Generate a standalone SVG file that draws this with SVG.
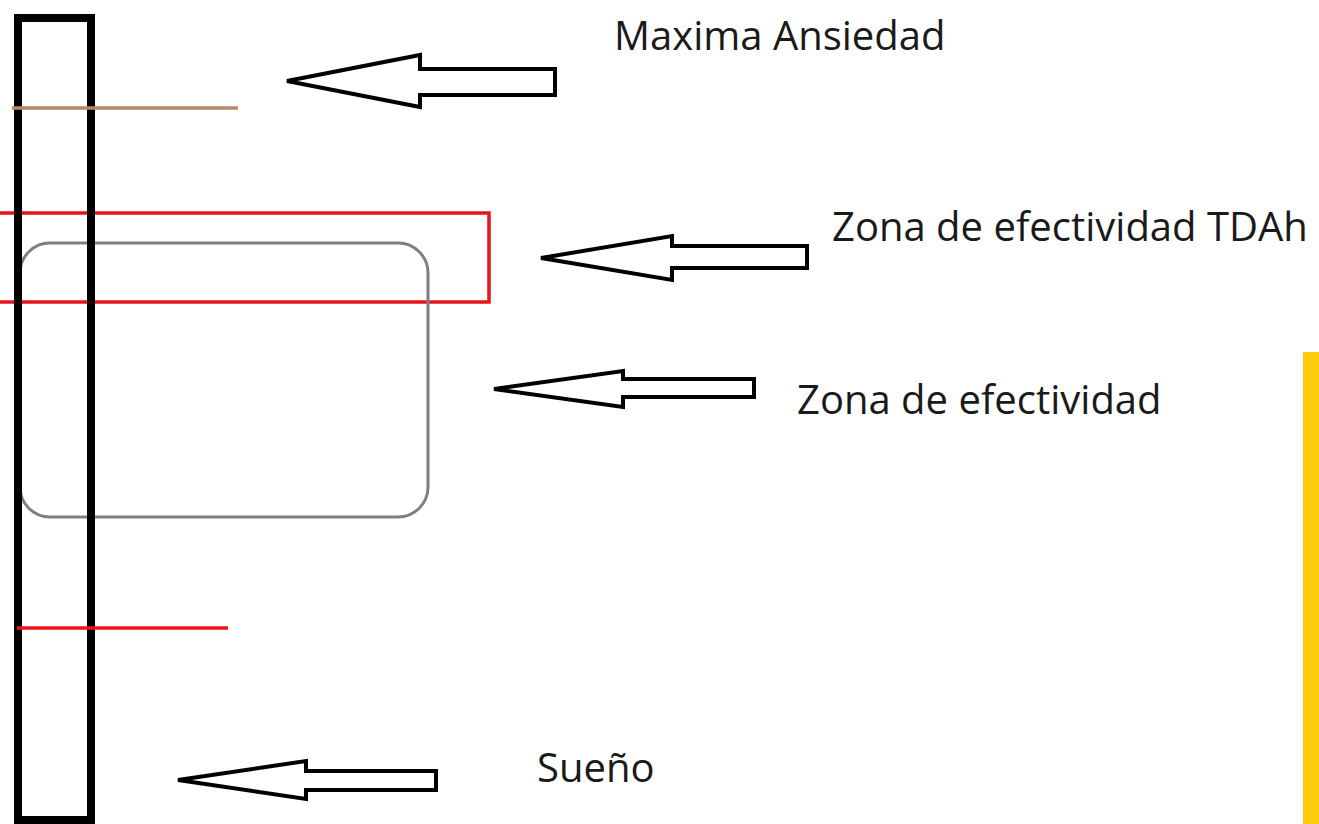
<svg xmlns="http://www.w3.org/2000/svg" width="1319" height="824" viewBox="0 0 1319 824">
<style>
.arrow{fill:#fff;stroke:#000;stroke-width:4;stroke-linejoin:miter}
.lbl{font-family:"Open Sans","Noto Sans",sans-serif;font-size:40px;fill:#1a1a1a}
</style>
<rect width="1319" height="824" fill="#fff"/>
<g id="red-zone"><rect x="-10" y="213" width="499" height="89" fill="none" stroke="#e8141c" stroke-width="3.5"/></g>
<g id="gray-zone"><rect x="20" y="243" width="408" height="274" rx="30" ry="30" fill="none" stroke="#7f7f7f" stroke-width="3"/></g>
<g id="bar"><rect x="18" y="18" width="73" height="802" fill="none" stroke="#000" stroke-width="8"/></g>
<g id="brown-line"><line x1="12" y1="108" x2="238" y2="108" stroke="#b9876a" stroke-width="3.5"/></g>
<g id="red-line"><line x1="17" y1="628" x2="228" y2="628" stroke="#e8141c" stroke-width="3.5"/></g>
<g id="yellow-bar"><rect x="1303" y="352" width="20" height="480" fill="#fccc0c"/></g>
<g id="connectors">
<polygon class="arrow" points="287,81 420,55 420,69 555,69 555,95 420,95 420,107"/>
<polygon class="arrow" points="541,258 672,236 672,246 807,246 807,268 672,268 672,280"/>
<polygon class="arrow" points="494,389 623,371 623,379 754,379 754,397 623,397 623,407"/>
<polygon class="arrow" points="178,780 306,761 306,771 436,771 436,790 306,790 306,799"/>
</g>
<g id="label-maxima"><text class="lbl" x="614" y="50">Maxima Ansiedad</text></g>
<g id="label-tdah"><text class="lbl" x="832" y="241">Zona de efectividad TDAh</text></g>
<g id="label-zona"><text class="lbl" x="797" y="414">Zona de efectividad</text></g>
<g id="label-sueno"><text class="lbl" x="537" y="782">Sueño</text></g>
</svg>
